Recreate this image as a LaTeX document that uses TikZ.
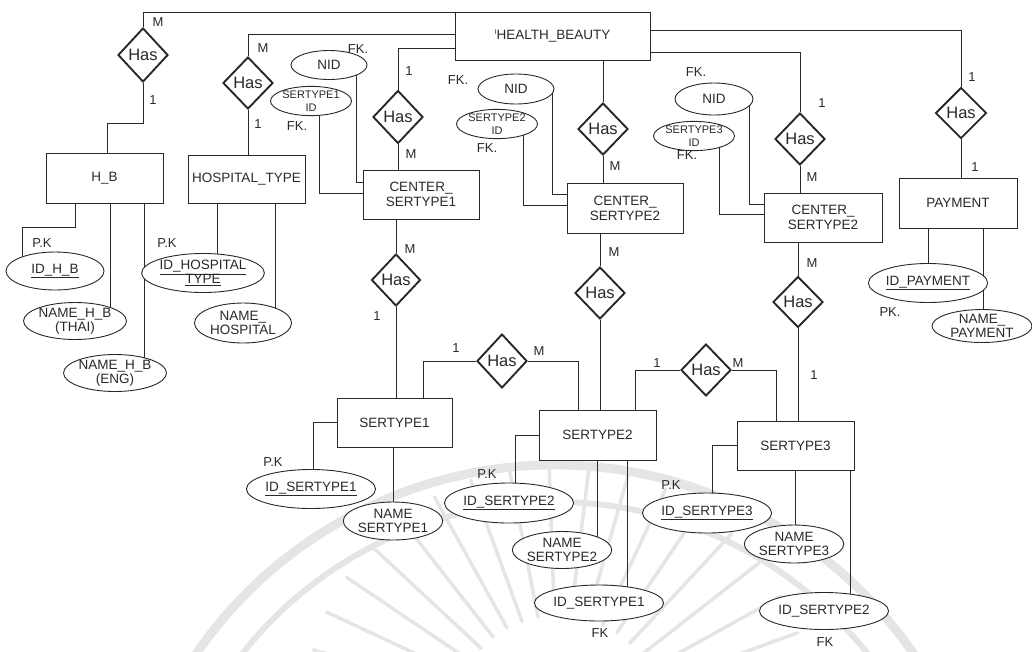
\documentclass[tikz,border=0pt]{standalone}
\usepackage{fontspec}
\setmainfont{Liberation Sans}
\usetikzlibrary{shapes.geometric}
\definecolor{ink}{gray}{0.16}
\definecolor{wmgray}{gray}{0.90}
\pgfdeclarelayer{wm}
\pgfdeclarelayer{wires}
\pgfsetlayers{wm,wires,main}

\begin{document}
\begin{tikzpicture}[x=1pt,y=-1pt,
  ent/.style={draw=ink, line width=0.9pt, fill=white, align=center, inner sep=0pt,
    text=ink, font=\fontsize{13.5}{15}\selectfont},
  rel/.style={diamond, draw=ink, line width=1.9pt, fill=white, inner sep=0pt,
    minimum width=50pt, minimum height=53pt, text=ink, font=\fontsize{16.5}{16.5}\selectfont},
  attr/.style={ellipse, draw=ink, line width=0.9pt, fill=white, inner sep=0pt, align=center,
    text=ink, font=\fontsize{13.5}{14}\selectfont},
  tiny/.style={font=\fontsize{11}{13}\selectfont},
  card/.style={inner sep=0pt, text=ink, font=\fontsize{13}{13}\selectfont},
  wire/.style={draw=ink, line width=0.8pt},
  wmark/.style={draw=wmgray, line cap=round},
]
\useasboundingbox (0,0) rectangle (1032,651);

% ---------- entities ----------
\node[ent, minimum width=195pt, minimum height=48pt] (hb) at (552.5,36)
  {{\fontsize{7}{7}\selectfont\raisebox{5pt}{I}}HEALTH\_BEAUTY};
\node[ent, minimum width=117pt, minimum height=50pt] (hbx) at (104.5,178) {H\_B};
\node[ent, minimum width=117pt, minimum height=48pt] (ht)  at (246.5,179) {HOSPITAL\_TYPE};
\node[ent, minimum width=116pt, minimum height=49pt] (cs1) at (421,194.5) {CENTER\_\\SERTYPE1};
\node[ent, minimum width=116pt, minimum height=50pt] (cs2) at (625,208) {CENTER\_\\SERTYPE2};
\node[ent, minimum width=118pt, minimum height=49pt] (cs3) at (823,217.5) {CENTER\_\\SERTYPE2};
\node[ent, minimum width=118pt, minimum height=50pt] (pay) at (958,203) {PAYMENT};
\node[ent, minimum width=115pt, minimum height=49pt] (s1)  at (394.5,422.5) {SERTYPE1};
\node[ent, minimum width=117pt, minimum height=50pt] (s2)  at (597.5,435) {SERTYPE2};
\node[ent, minimum width=117pt, minimum height=49pt] (s3)  at (795.5,445.5) {SERTYPE3};

% ---------- relationships ----------
\node[rel, minimum height=54pt] (r1) at (143,55) {Has};
\node[rel, minimum height=52pt] (r2) at (248,83) {Has};
\node[rel] (r3) at (398,117) {Has};
\node[rel, minimum height=52pt] (r4) at (603,129) {Has};
\node[rel, minimum height=52pt] (r5) at (800,139) {Has};
\node[rel, minimum width=51pt, minimum height=51pt] (r6) at (961,113) {Has};
\node[rel, minimum width=49pt, minimum height=52pt] (r7) at (396,280) {Has};
\node[rel, minimum height=54pt] (r8) at (502,361) {Has};
\node[rel, minimum height=52pt] (r9) at (600,293) {Has};
\node[rel, minimum height=52pt] (r10) at (706,370) {Has};
\node[rel, minimum height=51pt] (r11) at (798,302) {Has};

% ---------- attributes ----------
\node[attr, minimum width=98pt, minimum height=38pt] (idhb) at (55,271) {\underline{ID\_H\_B}};
\node[attr, minimum width=97pt, minimum height=37pt] (thai) at (75,321) {NAME\_H\_B\\(THAI)};
\node[attr, minimum width=98pt, minimum height=37pt] (eng)  at (115,373) {NAME\_H\_B\\(ENG)};
\node[attr, minimum width=98pt, minimum height=39pt] (idht) at (203,273) {\underline{ID\_HOSPITAL}\\\underline{TYPE}};
\node[attr, minimum width=97pt, minimum height=40pt] (nht)  at (243,323) {NAME\_\\HOSPITAL};

\node[attr, minimum width=76pt, minimum height=29pt] (nid1) at (329,65) {NID};
\node[attr, tiny, minimum width=76pt, minimum height=28pt] (sid1) at (311,101) {SERTYPE1\\ID};
\node[attr, minimum width=76pt, minimum height=30pt] (nid2) at (516,89) {NID};
\node[attr, tiny, minimum width=78pt, minimum height=26pt] (sid2) at (497,124) {SERTYPE2\\ID};
\node[attr, minimum width=78pt, minimum height=32pt] (nid3) at (714,99) {NID};
\node[attr, tiny, minimum width=77pt, minimum height=25pt] (sid3) at (694,136) {SERTYPE3\\ID};

\node[attr, minimum width=97pt, minimum height=39pt] (idp) at (928,283) {\underline{ID\_PAYMENT}};
\node[attr, minimum width=100pt, minimum height=33pt] (np) at (982,326) {NAME\_\\PAYMENT};

\node[attr, minimum width=97pt, minimum height=39pt] (ids1) at (311,489) {\underline{ID\_SERTYPE1}};
\node[attr, minimum width=95pt, minimum height=38pt] (ns1)  at (393,521) {NAME\\SERTYPE1};
\node[attr, minimum width=98pt, minimum height=40pt] (ids2) at (509,503) {\underline{ID\_SERTYPE2}};
\node[attr, minimum width=98pt, minimum height=37pt] (ns2)  at (562,550) {NAME\\SERTYPE2};
\node[attr, minimum width=98pt, minimum height=36pt] (fk1)  at (599,603) {ID\_SERTYPE1};
\node[attr, minimum width=98pt, minimum height=40pt] (ids3) at (707,513) {\underline{ID\_SERTYPE3}};
\node[attr, minimum width=97pt, minimum height=38pt] (ns3)  at (794,544) {NAME\\SERTYPE3};
\node[attr, minimum width=98pt, minimum height=37pt] (fk2)  at (824,611) {ID\_SERTYPE2};

% ---------- key labels ----------
\node[card] (kfk1) at (358,49) {FK.};
\node[card] (kfk2) at (297,126) {FK.};
\node[card] (kfk3) at (458,80) {FK.};
\node[card] (kfk4) at (487,148) {FK.};
\node[card] (kfk5) at (696,72) {FK.};
\node[card] (kfk6) at (687,155) {FK.};
\node[card] (kpk1) at (42,243) {P.K};
\node[card] (kpk2) at (167,243) {P.K};
\node[card] (kpk3) at (890,312) {PK.};
\node[card] (kpk4) at (273,462) {P.K};
\node[card] (kpk5) at (487,474) {P.K};
\node[card] (kpk6) at (671,485) {P.K};
\node[card] (kfk7) at (600,633) {FK};
\node[card] (kfk8) at (825,642) {FK};

% ---------- cardinalities ----------
\node[card] (c1a) at (158,22) {M};
\node[card] (c1b) at (153,100) {1};
\node[card] (c2a) at (263,48) {M};
\node[card] (c2b) at (258,124) {1};
\node[card] (c3a) at (409,71) {1};
\node[card] (c3b) at (411,154) {M};
\node[card] (c4b) at (615,166) {M};
\node[card] (c5a) at (822,103) {1};
\node[card] (c5b) at (812,177) {M};
\node[card] (c6a) at (972,77) {1};
\node[card] (c6b) at (975,167) {1};
\node[card] (c7a) at (410,249) {M};
\node[card] (c7b) at (377,316) {1};
\node[card] (c8a) at (456,348) {1};
\node[card] (c8b) at (539,351) {M};
\node[card] (c9a) at (614,252) {M};
\node[card] (c10a) at (657,363) {1};
\node[card] (c10b) at (738,363) {M};
\node[card] (c11a) at (812,263) {M};
\node[card] (c11b) at (814,375) {1};

% ---------- connectors ----------
\begin{pgfonlayer}{wires}
  % HEALTH_BEAUTY to its relationships
  \draw[wire] (r1.north) |- ([yshift=-1pt]hb.north west);
  \draw[wire] (r2.north) |- ([yshift=2pt]hb.west);
  \draw[wire] (r3.north) |- ([yshift=-12pt]hb.west);
  \draw[wire] (r4.north) -- (r4.north |- hb.south);
  \draw[wire] (r5.north) |- ([yshift=-16pt]hb.east);
  \draw[wire] (r6.north) |- ([yshift=6pt]hb.east);
  % relationships to entities
  \draw[wire] (r1.south) -- ++(0,40) -| ([xshift=2.5pt]hbx.north);
  \draw[wire] (r2.south) -- (r2.south |- ht.north);
  \draw[wire] (r3.south) -- (r3.south |- cs1.north);
  \draw[wire] (r4.south) -- (r4.south |- cs2.north);
  \draw[wire] (r5.south) -- (r5.south |- cs3.north);
  \draw[wire] (r6.south) -- (r6.south |- pay.north);
  \draw[wire] (r7.north) -- (r7.north |- cs1.south);
  \draw[wire] (r7.south) -- (r7.south |- s1.north);
  \draw[wire] (r9.north) -- (r9.north |- cs2.south);
  \draw[wire] (r9.south) -- (r9.south |- s2.north);
  \draw[wire] (r11.north) -- (r11.north |- cs3.south);
  \draw[wire] (r11.south) -- (r11.south |- s3.north);
  \draw[wire] (r8.west) -| ([xshift=28.5pt]s1.north);
  \draw[wire] (r8.east) -| ([xshift=-19.5pt]s2.north);
  \draw[wire] (r10.west) -| ([xshift=37.5pt]s2.north);
  \draw[wire] (r10.east) -| ([xshift=-19.5pt]s3.north);
  % attributes of H_B and HOSPITAL_TYPE
  \draw[wire] ([xshift=-29.5pt]hbx.south) -- ++(0,24) -| ([xshift=-33pt]idhb.center);
  \draw[wire] ([xshift=5.5pt]hbx.south) |- (thai.center);
  \draw[wire] ([xshift=39.5pt]hbx.south) |- (eng.center);
  \draw[wire] ([xshift=-29.5pt]ht.south) |- (idht.center);
  \draw[wire] ([xshift=28.5pt]ht.south) |- (nht.center);
  % foreign keys of the centre tables
  \draw[wire] ([xshift=27pt]nid1.center) |- ([yshift=12.5pt]cs1.west);
  \draw[wire] ([xshift=8pt]sid1.center) |- ([yshift=1.5pt]cs1.west);
  \draw[wire] ([xshift=36pt]nid2.center) |- ([yshift=14pt]cs2.west);
  \draw[wire] ([xshift=26pt]sid2.center) |- ([yshift=3pt]cs2.west);
  \draw[wire] ([xshift=35pt]nid3.center) |- ([yshift=13.5pt]cs3.west);
  \draw[wire] ([xshift=25pt]sid3.center) |- ([yshift=3.5pt]cs3.west);
  % PAYMENT attributes
  \draw[wire] ([xshift=-30pt]pay.south) |- (idp.center);
  \draw[wire] ([xshift=25pt]pay.south) |- (np.center);
  % SERTYPE attributes
  \draw[wire] (s1.west) -| ([xshift=2pt]ids1.center);
  \draw[wire] ([xshift=-1.5pt]s1.south) |- (ns1.center);
  \draw[wire] (s2.west) -| ([xshift=6pt]ids2.center);
  \draw[wire] ([xshift=-0.5pt]s2.south) |- (ns2.center);
  \draw[wire] ([xshift=29.5pt]s2.south) |- (fk1.center);
  \draw[wire] (s3.west) -| ([xshift=5pt]ids3.center);
  \draw[wire] ([xshift=-0.5pt]s3.south) |- (ns3.center);
  \draw[wire] ([xshift=54.5pt]s3.south) |- (fk2.center);
\end{pgfonlayer}

% ---------- faint emblem in the background ----------
\begin{pgfonlayer}{wm}
  \draw[wmark, line width=9pt] (555,900) ++(200:435) arc[start angle=200, end angle=340, radius=435];
  \draw[wmark, line width=6pt] (555,900) ++(205:398) arc[start angle=205, end angle=335, radius=398];
  \foreach \a in {196,205,...,344}
    \draw[wmark, line width=3.5pt] (558,720) ++(\a:105) -- ++(\a:150);
\end{pgfonlayer}
\end{tikzpicture}
\end{document}
